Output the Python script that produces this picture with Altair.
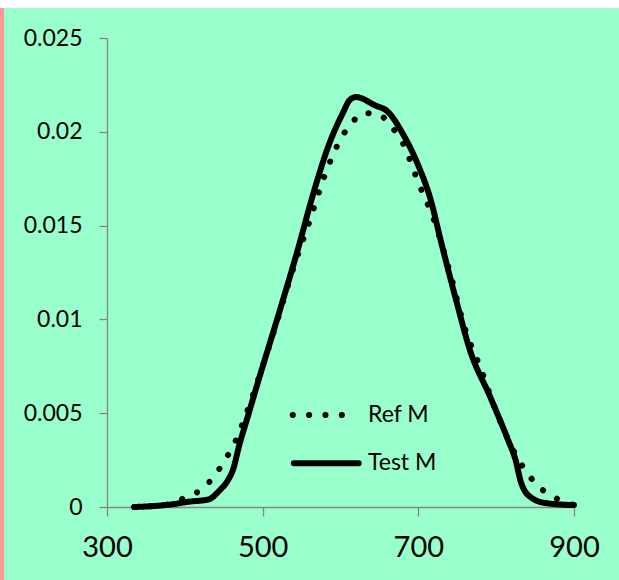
import altair as alt
import pandas as pd

# Reference sample (dotted curve)
ref_x = [335, 360, 385, 400, 420, 435, 450, 465, 480, 500, 520, 540, 560, 580,
         600, 615, 630, 650, 665, 680, 700, 720, 740, 760, 780, 800, 820, 840,
         860, 880, 900]
ref_y = [0.0, 0.00005, 0.0002, 0.0005, 0.0009, 0.0015, 0.0024, 0.0035, 0.0051,
         0.0075, 0.0101, 0.0128, 0.0152, 0.0177, 0.0196, 0.0205, 0.0210, 0.0209,
         0.0203, 0.0194, 0.0173, 0.0153, 0.0126, 0.0095, 0.0074, 0.0051, 0.0032,
         0.0018, 0.0009, 0.0004, 0.0001]

# Test sample (solid curve)
test_x = [335, 360, 385, 405, 430, 445, 455, 462, 470, 480, 495, 520, 545, 565,
          585, 603, 612, 620, 645, 660, 680, 700, 715, 730, 750, 766, 792, 815,
          825, 832, 845, 865, 900]
test_y = [0.0, 0.00005, 0.00015, 0.00028, 0.0004, 0.0009, 0.0014, 0.002, 0.0033,
          0.0047, 0.0068, 0.0102, 0.0137, 0.0167, 0.0193, 0.0210, 0.0217, 0.02185,
          0.0214, 0.0211, 0.0199, 0.0182, 0.0165, 0.0140, 0.0108, 0.0084, 0.0059,
          0.0036, 0.0025, 0.0013, 0.0005, 0.0002, 0.0001]

series_names = ["Ref M", "Test M"]
x_ticks = [300, 500, 700, 900]
y_ticks = [0, 0.005, 0.01, 0.015, 0.02, 0.025]

df = pd.concat([
    pd.DataFrame({"x": ref_x, "y": ref_y, "series": series_names[0], "order": range(len(ref_x))}),
    pd.DataFrame({"x": test_x, "y": test_y, "series": series_names[1], "order": range(len(test_x))}),
])

MINT = "#99FFCC"
GRAY = "#868686"
FONT = "Lato"

dash_scale = alt.Scale(domain=series_names, range=[[0.1, 16.25], [1, 0]])
x_scale = alt.Scale(domain=[300, 900], nice=False, zero=False)
y_scale = alt.Scale(domain=[0, 0.025], nice=False)

lines = alt.Chart(df).mark_line(
    color="black", strokeWidth=6, strokeCap="round", strokeJoin="round",
    interpolate="monotone", clip=False,
).encode(
    x=alt.X("x:Q", scale=x_scale,
            axis=alt.Axis(values=x_ticks, title=None, labelFontSize=29,
                          tickSize=9, labelPadding=17, labelFlush=False)),
    y=alt.Y("y:Q", scale=y_scale,
            axis=alt.Axis(values=y_ticks, title=None, format="~g", labelFontSize=23,
                          tickSize=8, labelPadding=17)),
    strokeDash=alt.StrokeDash("series:N", scale=dash_scale, legend=None),
    order="order:Q",
)

# in-plot legend: one sample stroke and one label per series
legend_df = pd.DataFrame({
    "series": series_names,
    "x0": [538.6, 540.0],
    "x1": [622.1, 623.4],
    "lx": [635.3, 635.3],
    "y": [0.00490, 0.00233],
})
legend_strokes = alt.Chart(legend_df).mark_rule(
    color="black", strokeWidth=6, strokeCap="round"
).encode(
    x="x0:Q", x2="x1:Q", y="y:Q",
    strokeDash=alt.StrokeDash("series:N", scale=dash_scale, legend=None),
)
legend_labels = alt.Chart(legend_df).mark_text(
    align="left", baseline="middle", font=FONT, fontSize=23, color="black"
).encode(x="lx:Q", y="y:Q", text="series:N")

# thin framing strips along the top and left edges of the page
frame = pd.DataFrame({"k": ["top", "left"]})
top_strip = alt.Chart(frame).transform_filter("datum.k == 'top'").mark_rect(
    color="white", clip=False
).encode(x=alt.value(-107), x2=alt.value(512), y=alt.value(-38), y2=alt.value(-30))
left_strip = alt.Chart(frame).transform_filter("datum.k == 'left'").mark_rect(
    color="#FF9999", clip=False
).encode(x=alt.value(-107), x2=alt.value(-103), y=alt.value(-30), y2=alt.value(542))

chart = alt.layer(top_strip, left_strip, lines, legend_strokes, legend_labels).properties(
    width=467, height=469,
    autosize=alt.AutoSizeParams(type="none"),
    padding={"left": 107, "top": 38, "right": 45, "bottom": 73},
    background=MINT,
).configure_view(stroke=None).configure_axis(
    grid=False, domainColor=GRAY, tickColor=GRAY, domainWidth=1.3, tickWidth=1.3,
    labelColor="black", labelFont=FONT,
)

chart.save("out.html", embed_options={"renderer": "svg", "actions": False})
